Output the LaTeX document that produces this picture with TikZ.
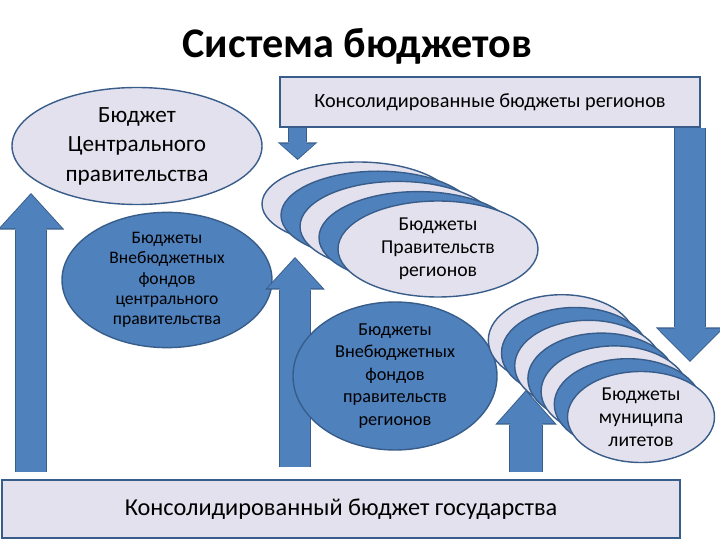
\documentclass[tikz,border=0pt]{standalone}
\usepackage{fontspec}
\setmainfont{Carlito}
\usetikzlibrary{arrows.meta,positioning,shapes.geometric}
\definecolor{lav}{RGB}{228,225,238}
\definecolor{bblue}{RGB}{79,129,189}
\definecolor{edge}{RGB}{56,93,138}
\tikzset{
  lell/.style={draw=edge, fill=lav, ellipse, line width=1pt, inner sep=0pt, align=center},
  bell/.style={draw=edge, fill=bblue, ellipse, line width=1pt, inner sep=0pt, align=center},
  box/.style={draw=edge, fill=lav, rectangle, line width=1pt, inner sep=0pt, align=center},
  bigarr/.style n args={3}{draw=bblue, line width=#1, shorten >=1pt,
    -{Triangle[width=#2, length=#3, line width=0pt]},
    preaction={draw=edge, line width=#1+1.4pt, shorten >=0pt,
      -{Triangle[width=#2+3.2pt, length=#3+1.8pt, line width=0pt]}}},
}

\begin{document}
\begin{tikzpicture}
\useasboundingbox (0,0) rectangle (18,13.5);

\node[font=\fontsize{30}{36}\selectfont\bfseries] (title) at (8.94,12.35) {Система бюджетов};

\node[lell, minimum width=6.25cm, minimum height=2.925cm, font=\fontsize{16.5}{21}\selectfont] (cgov) at (3.425,9.85)
  {Бюджет\\Центрального\\правительства};
\node[bell, minimum width=5.25cm, minimum height=2.85cm, font=\fontsize{12.5}{14.5}\selectfont] (cfund) at (4.175,6.5)
  {Бюджеты\\Внебюджетных\\фондов\\центрального\\правительства};

\node[box, minimum width=10.5cm, minimum height=1.25cm, font=\fontsize{14.4}{17}\selectfont] (reg) at (12.25,10.95)
  {Консолидированные бюджеты регионов};
\node[box, minimum width=16.95cm, minimum height=1.45cm, font=\fontsize{17.3}{20}\selectfont] (gov) at (8.525,0.775)
  {Консолидированный бюджет государства};

% arrow tips
\coordinate (t1) at (0.775,8.675);
\coordinate (t2) at (7.44,9.5);
\coordinate (t3) at (7.375,7.075);
\coordinate (t4) at (13.15,3.75);
\coordinate (t5) at (17.25,4.45);

\draw[bigarr={0.75cm}{1.55cm}{0.85cm}] ([yshift=0.175cm]gov.north -| t1) -- (t1);
\draw[bigarr={0.425cm}{0.875cm}{0.375cm}] (reg.south -| t2) -- (t2);
\draw[bigarr={0.75cm}{1.375cm}{0.75cm}] ([yshift=0.3cm]gov.north -| t3) -- (t3);
\draw[bigarr={0.8cm}{1.425cm}{0.8cm}] ([yshift=0.175cm]gov.north -| t4) -- (t4);
\draw[bigarr={0.75cm}{1.6cm}{0.8cm}] (reg.south -| t5) -- (t5);

\node[bell, minimum width=5.1cm, minimum height=2.875cm, font=\fontsize{13}{16}\selectfont] (rfund) at (9.875,4.1)
  {Бюджеты\\Внебюджетных\\фондов\\правительств\\регионов};

% regional governments
\node[lell, minimum width=4.8cm, minimum height=2.1cm] (rg4) at (8.95,8.4) {};
\node[bell, minimum width=4.85cm, minimum height=2.2cm] (rg3) at (9.45,8.12) {};
\node[lell, minimum width=4.9cm, minimum height=2.25cm] (rg2) at (9.95,7.84) {};
\node[bell, minimum width=4.95cm, minimum height=2.3cm] (rg1) at (10.45,7.56) {};
\node[lell, minimum width=5cm, minimum height=2.4cm, font=\fontsize{14}{16.5}\selectfont] (rg) at (10.95,7.275)
  {Бюджеты\\Правительств\\регионов};

% municipalities
\node[lell, minimum width=3.675cm, minimum height=2.275cm] (mu6) at (14.045,4.995) {};
\node[bell, minimum width=3.675cm, minimum height=2.275cm] (mu5) at (14.375,4.675) {};
\node[lell, minimum width=3.675cm, minimum height=2.275cm] (mu4) at (14.705,4.355) {};
\node[bell, minimum width=3.675cm, minimum height=2.275cm] (mu3) at (15.035,4.035) {};
\node[lell, minimum width=3.675cm, minimum height=2.275cm] (mu2) at (15.365,3.715) {};
\node[bell, minimum width=3.675cm, minimum height=2.275cm] (mu1) at (15.695,3.395) {};
\node[lell, minimum width=3.675cm, minimum height=2.275cm, font=\fontsize{14}{16.3}\selectfont] (mu) at (16.025,3.075)
  {Бюджеты\\муниципа\\литетов};

\end{tikzpicture}
\end{document}
